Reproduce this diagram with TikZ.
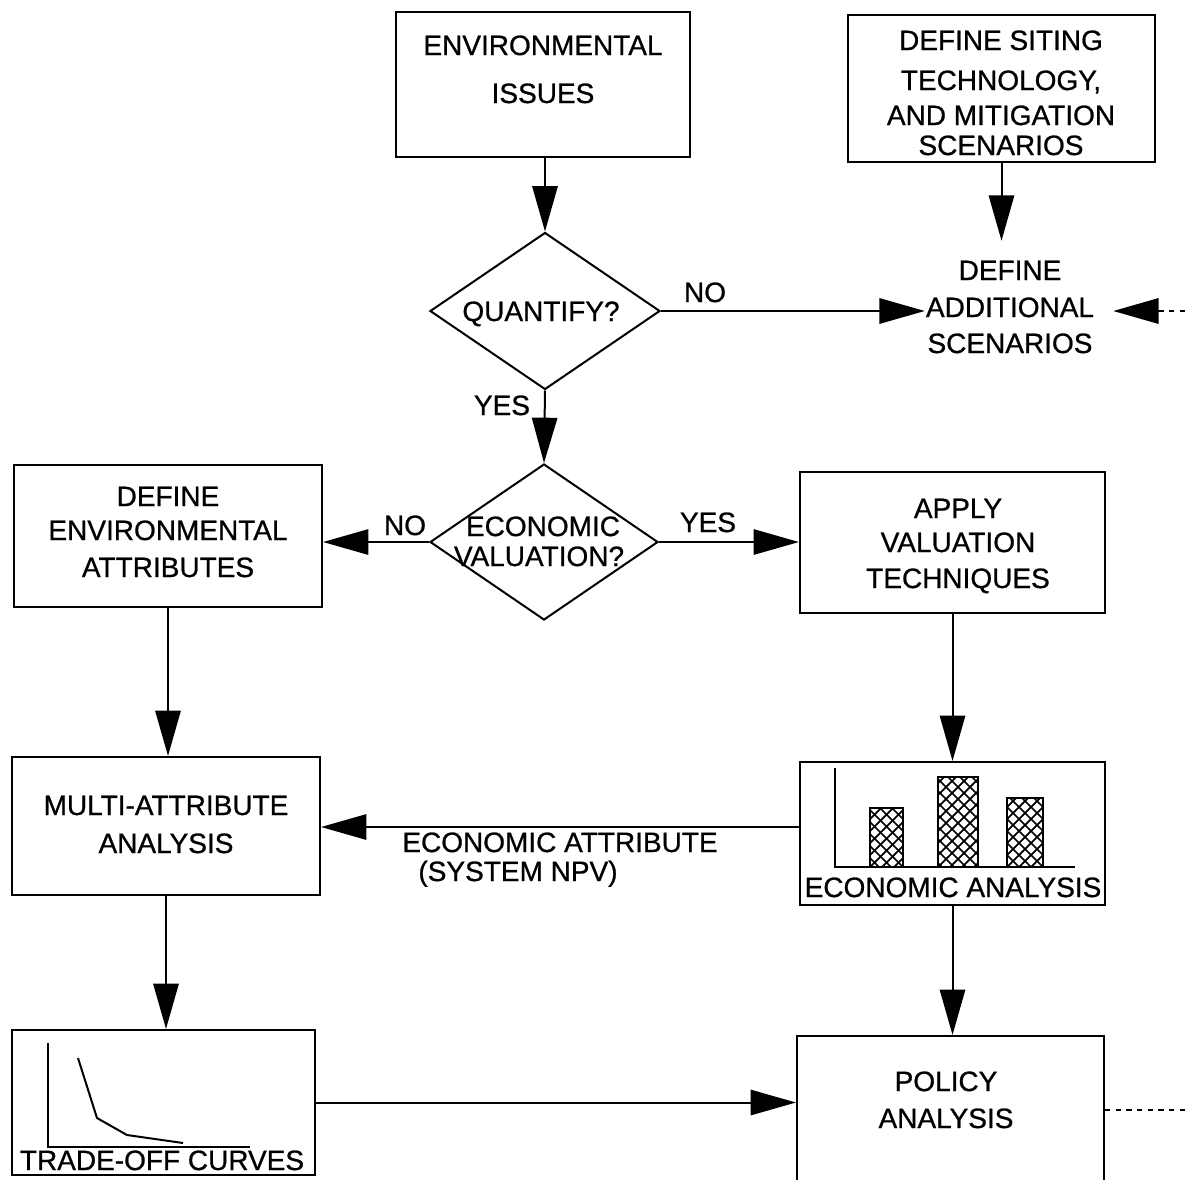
\documentclass[tikz,border=0pt]{standalone}
\usepackage{fontspec}
\setmainfont{Liberation Sans}[RawFeature={embolden=0.8}]
\usetikzlibrary{arrows.meta,shapes.geometric}
\def\u{0.75pt}
\begin{document}
\begin{tikzpicture}[x=0.75pt,y=-0.75pt,
  box/.style={draw, line width=1.6pt, inner sep=0pt},
  dia/.style={draw, diamond, line width=1.5pt, inner sep=0pt},
  lbl/.style={font=\fontsize{21}{25}\selectfont, inner sep=0pt, anchor=base},
  arr/.style={line width=1.5pt, -{Triangle[length=34pt,width=19pt]}},
  dots/.style={line width=1.7pt, dash pattern=on 4pt off 4pt},
  hatch/.style={line width=1.3pt},
]
\clip (0,0) rectangle (1185,1179);

% boxes
\node[box, minimum width=294*\u, minimum height=145*\u] (envI) at (543,84.5) {};
\node[box, minimum width=307*\u, minimum height=147*\u] (siting) at (1001.5,88.5) {};
\node[inner sep=0pt, minimum width=188*\u, minimum height=140*\u] (addl) at (1019,311) {};
\node[dia, minimum width=230*\u, minimum height=157*\u] (q) at (545,311) {};
\node[dia, minimum width=228*\u, minimum height=156*\u] (ev) at (544,542) {};
\node[box, minimum width=308*\u, minimum height=142*\u] (defEnv) at (168,536) {};
\node[box, minimum width=305*\u, minimum height=141*\u] (apply) at (952.5,542.5) {};
\node[box, minimum width=308*\u, minimum height=138*\u] (multi) at (166,826) {};
\node[box, minimum width=305*\u, minimum height=143*\u] (econ) at (952.5,833.5) {};
\node[box, minimum width=303*\u, minimum height=145*\u] (trade) at (163.5,1102.5) {};
\node[box, minimum width=307*\u, minimum height=180*\u] (policy) at (950.5,1126) {};

% texts
\node[lbl] (t1a) at (543,55) {ENVIRONMENTAL};
\node[lbl] (t1b) at (543,103) {ISSUES};
\node[lbl] (t2a) at (1001,50) {DEFINE SITING};
\node[lbl] (t2b) at (1001,90) {TECHNOLOGY,};
\node[lbl] (t2c) at (1001,125) {AND MITIGATION};
\node[lbl] (t2d) at (1001,155) {SCENARIOS};
\node[lbl] (t3a) at (1010,280) {DEFINE};
\node[lbl] (t3b) at (1010,317) {ADDITIONAL};
\node[lbl] (t3c) at (1010,353) {SCENARIOS};
\node[lbl] (t4) at (541,321) {QUANTIFY?};
\node[lbl] (t5a) at (543,536) {ECONOMIC};
\node[lbl] (t5b) at (539,566) {VALUATION?};
\node[lbl] (t6a) at (168,506) {DEFINE};
\node[lbl] (t6b) at (168,540) {ENVIRONMENTAL};
\node[lbl] (t6c) at (168,577) {ATTRIBUTES};
\node[lbl] (t7a) at (958,518) {APPLY};
\node[lbl] (t7b) at (958,552) {VALUATION};
\node[lbl] (t7c) at (958,588) {TECHNIQUES};
\node[lbl] (t8a) at (166,815) {MULTI-ATTRIBUTE};
\node[lbl] (t8b) at (166,853) {ANALYSIS};
\node[lbl] (t9a) at (560,852) {ECONOMIC ATTRIBUTE};
\node[lbl] (t9b) at (518,881) {(SYSTEM NPV)};
\node[lbl] (t10) at (953,897) {ECONOMIC ANALYSIS};
\node[lbl] (t11) at (162,1170) {TRADE-OFF CURVES};
\node[lbl] (t12a) at (946,1091) {POLICY};
\node[lbl] (t12b) at (946,1128) {ANALYSIS};
\node[lbl] (yes1) at (502,415) {YES};
\node[lbl] (no1) at (705,302) {NO};
\node[lbl] (no2) at (405,535) {NO};
\node[lbl] (yes2) at (708,532) {YES};

% connectors
\draw[arr] (q.north |- envI.south) -- (q.north);
\draw[arr] (siting.south) -- (siting.south |- addl.north);
\draw[arr] (q.east) -- (q.east -| addl.west);
\coordinate (dR) at (1185,311);
\draw[dots, -{Triangle[length=34pt,width=19pt]}] (dR) -- (dR -| addl.east);
\draw[arr] (q.south) -- (ev.north);
\draw[arr] (ev.west) -- (ev.west -| defEnv.east);
\draw[arr] (ev.east) -- (ev.east -| apply.west);
\draw[arr] (defEnv.south) -- (defEnv.south |- multi.north);
\draw[arr] (apply.south) -- (apply.south |- econ.north);
\coordinate (eA) at (800,827);
\draw[arr] (eA) -- (eA -| multi.east);
\draw[arr] (multi.south) -- (multi.south |- trade.north);
\draw[arr] (trade.east) -- (trade.east -| policy.west);
\draw[arr] (econ.south) -- (econ.south |- policy.north);
\coordinate (pR) at (1185,1110);
\draw[dots] (pR -| policy.east) -- (pR);

% bar chart
\draw[line width=1.5pt] (835,768) -- (835,867) -- (1075,867);
\foreach \xa/\xb/\yt in {870/903/808, 938/978/777, 1007/1043/798}{
  \begin{scope}
    \clip (\xa,\yt) rectangle (\xb,867);
    \foreach \k in {-10,...,10}{
      \draw[hatch] (\xa+\k*12,867) -- ++(110,-110);
      \draw[hatch] (\xb+\k*12,867) -- ++(-110,-110);
    }
  \end{scope}
  \draw[line width=1.6pt] (\xa,867) -- (\xa,\yt) -- (\xb,\yt) -- (\xb,867);
}

% trade-off chart
\draw[line width=1.5pt] (48,1043) -- (48,1147) -- (250,1147);
\draw[line width=1.5pt, line join=round] (78,1058) -- (97,1118) -- (127,1135) -- (183,1143);
\end{tikzpicture}
\end{document}
